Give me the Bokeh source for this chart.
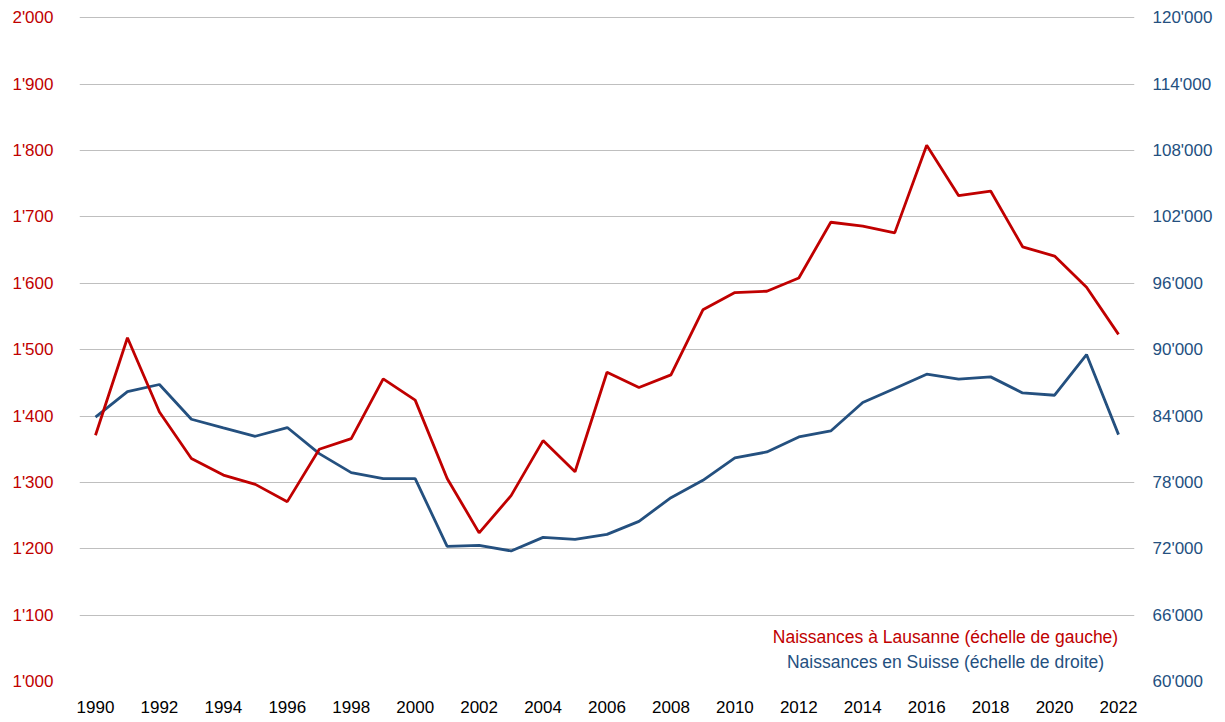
from bokeh.plotting import figure
from bokeh.models import Range1d, LinearAxis, FixedTicker, Label
from bokeh.embed import file_html
from bokeh.resources import INLINE

years = list(range(1990, 2023))
lausanne = [1371, 1518, 1406, 1336, 1311, 1297, 1271, 1350, 1366, 1456, 1424,
            1306, 1224, 1280, 1363, 1316, 1466, 1443, 1462, 1560, 1586, 1588,
            1608, 1692, 1686, 1676, 1808, 1732, 1739, 1655, 1641, 1594, 1523]
suisse = [83900, 86200, 86850, 83710, 82930, 82170, 82960, 80600, 78880, 78340, 78340,
          72220, 72310, 71800, 73030, 72850, 73300, 74480, 76620, 78190, 80210, 80750,
          82110, 82650, 85220, 86490, 87780, 87330, 87540, 86090, 85880, 89560, 82320]
left_ticks = list(range(1000, 2001, 100))
right_ticks = list(range(60000, 120001, 6000))
x_ticks = list(range(1990, 2023, 2))
label_lausanne = "Naissances à Lausanne (échelle de gauche)"
label_suisse = "Naissances en Suisse (échelle de droite)"

RED = "#C00000"
BLUE = "#24507F"
FONT = "Liberation Sans"

def fmt(v):
    return f"{v:,}".replace(",", "'")

p = figure(frame_width=1055, frame_height=665, output_backend="svg", toolbar_location=None,
           x_range=Range1d(1989.5, 2022.5), y_range=Range1d(1000, 2002),
           min_border_left=79, min_border_right=83, min_border_top=16, min_border_bottom=30)
p.extra_y_ranges = {"ch": Range1d(60000, 120120)}
p.outline_line_color = None
p.background_fill_color = "white"

p.xgrid.visible = False
p.ygrid.grid_line_color = "#BFBFBF"
p.ygrid.grid_line_width = 1
p.ygrid.ticker = FixedTicker(ticks=left_ticks)

for ax in [p.xaxis[0], p.yaxis[0]]:
    ax.axis_line_color = None
    ax.major_tick_line_color = None
    ax.minor_tick_line_color = None
    ax.major_label_text_font = FONT
    ax.major_label_text_font_size = "17px"

p.xaxis[0].ticker = FixedTicker(ticks=x_ticks)
p.xaxis[0].major_label_text_color = "black"
p.xaxis[0].major_label_standoff = 13

p.yaxis[0].ticker = FixedTicker(ticks=left_ticks)
p.yaxis[0].major_label_overrides = {t: fmt(t) for t in left_ticks}
p.yaxis[0].major_label_text_color = RED
p.yaxis[0].major_label_standoff = 20

rax = LinearAxis(y_range_name="ch", ticker=FixedTicker(ticks=right_ticks))
rax.major_label_overrides = {t: fmt(t) for t in right_ticks}
rax.axis_line_color = None
rax.major_tick_line_color = None
rax.minor_tick_line_color = None
rax.major_label_text_font = FONT
rax.major_label_text_font_size = "17px"
rax.major_label_text_color = BLUE
rax.major_label_standoff = 12
p.add_layout(rax, "right")

p.line(years, suisse, y_range_name="ch", line_color=BLUE, line_width=2.8)
p.line(years, lausanne, line_color=RED, line_width=2.8)

p.add_layout(Label(x=866, y=45, x_units="screen", y_units="screen", text=label_lausanne,
                   text_align="center", text_baseline="middle", text_color=RED,
                   text_font=FONT, text_font_size="17.5px"))
p.add_layout(Label(x=866, y=20, x_units="screen", y_units="screen", text=label_suisse,
                   text_align="center", text_baseline="middle", text_color=BLUE,
                   text_font=FONT, text_font_size="17.5px"))

open("out.html", "w").write(file_html(p, INLINE))
